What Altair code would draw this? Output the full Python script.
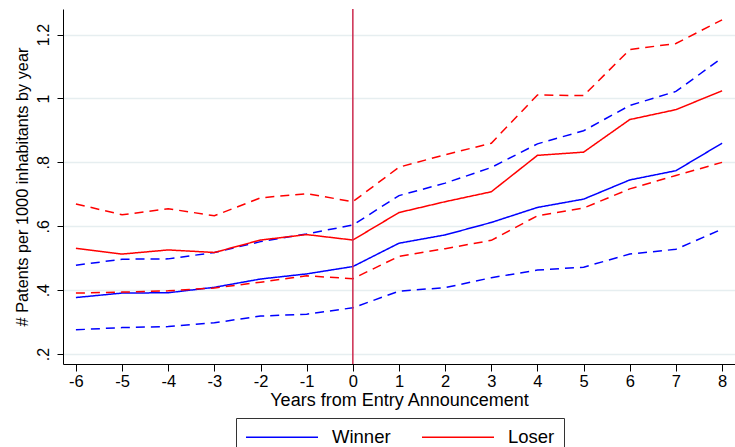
import altair as alt
import pandas as pd

years = list(range(-6, 9))
winner_est = [0.377, 0.391, 0.392, 0.409, 0.435, 0.451, 0.474, 0.547, 0.573, 0.612, 0.659, 0.685, 0.745, 0.774, 0.860]
winner_lo = [0.276, 0.283, 0.286, 0.298, 0.319, 0.325, 0.345, 0.397, 0.408, 0.439, 0.463, 0.472, 0.513, 0.528, 0.591]
winner_hi = [0.478, 0.497, 0.498, 0.518, 0.552, 0.576, 0.604, 0.696, 0.735, 0.784, 0.858, 0.899, 0.978, 1.022, 1.127]
loser_est = [0.531, 0.513, 0.526, 0.518, 0.557, 0.574, 0.557, 0.643, 0.677, 0.708, 0.822, 0.832, 0.934, 0.965, 1.024]
loser_lo = [0.391, 0.394, 0.398, 0.407, 0.425, 0.445, 0.436, 0.506, 0.530, 0.556, 0.633, 0.657, 0.717, 0.759, 0.800]
loser_hi = [0.670, 0.636, 0.655, 0.633, 0.689, 0.702, 0.677, 0.785, 0.824, 0.860, 1.011, 1.009, 1.153, 1.172, 1.246]
y_ticks = [0.2, 0.4, 0.6, 0.8, 1.0, 1.2]
event_year = [0]

rows = []
for grp, series in [("Winner", [("est", winner_est), ("lo", winner_lo), ("hi", winner_hi)]),
                    ("Loser", [("est", loser_est), ("lo", loser_lo), ("hi", loser_hi)])]:
    for band, vals in series:
        for yr, v in zip(years, vals):
            rows.append({"year": yr, "value": v, "group": grp, "band": band,
                         "series": grp + "_" + band, "ci": "ci" if band != "est" else "est"})
df = pd.DataFrame(rows)

FONT = "Liberation Sans"
xscale = alt.Scale(domain=[-6.28, 8.28], nice=False, zero=False)
yscale = alt.Scale(domain=[0.169, 1.28], nice=False, zero=False)

lines = alt.Chart(df).mark_line(strokeWidth=1.5, clip=True).encode(
    x=alt.X("year:Q", scale=xscale,
            axis=alt.Axis(values=years, labelExpr="'' + datum.value", title="Years from Entry Announcement",
                          grid=False, domainColor="black", tickColor="black", tickSize=7,
                          labelFontSize=16.5, labelFont=FONT, labelColor="black", labelPadding=2,
                          titleFontSize=18, titleFont=FONT, titleFontWeight="normal",
                          titleColor="black", titlePadding=2)),
    y=alt.Y("value:Q", scale=yscale,
            axis=alt.Axis(values=y_ticks, labelExpr="replace(format(datum.value, '.1~f'), /^0/, '')",
                          title="# Patents per 1000 inhabitants by year",
                          grid=True, gridColor="#e6eef0", gridWidth=1.5,
                          domainColor="black", tickColor="black", tickSize=6,
                          labelAngle=-90, labelAlign="center", labelBaseline="bottom",
                          labelFontSize=16, labelFont=FONT, labelColor="black", labelPadding=6,
                          titleFontSize=16.3, titleFont=FONT, titleFontWeight="normal",
                          titleColor="black", titlePadding=5)),
    color=alt.Color("group:N", scale=alt.Scale(domain=["Winner", "Loser"], range=["#0000ff", "#ff0000"]),
                    legend=alt.Legend(title=None, orient="none", legendX=173, legendY=409,
                                      direction="horizontal", symbolType="M-1,0H7", symbolSize=324,
                                      symbolStrokeWidth=1.5, labelFontSize=18.5, labelFont=FONT,
                                      labelColor="black", labelOffset=67, columnPadding=28,
                                      padding=9, strokeColor="#333333", fillColor="white",
                                      labelLimit=200)),
    strokeDash=alt.StrokeDash("ci:N", scale=alt.Scale(domain=["est", "ci"], range=[[1, 0], [9, 6]]),
                              legend=None),
    detail="series:N",
)

vline = alt.Chart(pd.DataFrame({"year": event_year})).mark_rule(color="#cc2a4e", strokeWidth=1.5).encode(
    x=alt.X("year:Q", scale=xscale)
)

chart = alt.layer(lines, vline).properties(
    width=672, height=355,
    padding={"left": 63, "top": 9, "right": 0, "bottom": 83},
    autosize=alt.AutoSizeParams(type="none"),
    background="white",
).configure_view(stroke=None)

chart.save("out.html", embed_options={"renderer": "svg", "actions": False})
